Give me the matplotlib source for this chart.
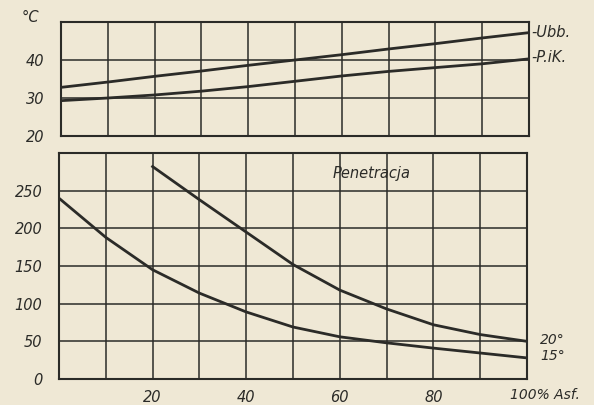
import numpy as np
import matplotlib
matplotlib.use("Agg")
import matplotlib.pyplot as plt

# --- Dane ---
asf = [0, 10, 20, 30, 40, 50, 60, 70, 80, 90, 100]
ubb = [32.8, 34.2, 35.7, 37.1, 38.6, 40.0, 41.4, 42.9, 44.3, 45.8, 47.2]
pik = [29.3, 30.0, 30.8, 31.8, 33.0, 34.4, 35.8, 37.0, 38.0, 39.0, 40.3]

asf_15 = [0, 10, 20, 30, 40, 50, 60, 70, 80, 90, 100]
pen_15 = [240, 188, 145, 114, 89, 69, 56, 48, 41, 34.5, 28]
asf_20 = [20, 30, 40, 50, 60, 70, 80, 90, 100]
pen_20 = [282, 238, 195, 152, 118, 93, 72, 59, 50]

bg = "#efe8d5"
ink = "#2b2b28"
fnt = dict(family="DejaVu Sans", style="italic", color=ink)

fig = plt.figure(figsize=(5.94, 4.05), dpi=100, facecolor=bg)

# --- Gorny wykres: temperatura ---
ax1 = fig.add_axes([61 / 594, 1 - 136 / 405, 468 / 594, 114 / 405], facecolor=bg)
ax1.plot(asf, ubb, color=ink, lw=2)
ax1.plot(asf, pik, color=ink, lw=2)
ax1.set_xlim(0, 100)
ax1.set_ylim(20, 50)
ax1.set_xticks(np.arange(0, 101, 10))
ax1.set_yticks([20, 30, 40, 50])
ax1.set_xticklabels([])
ax1.set_yticklabels(["20", "30", "40", ""], fontsize=10.5, **fnt)
ax1.text(-0.066, 1.04, "°C", transform=ax1.transAxes, ha="center", va="center", fontsize=10.5, **fnt)
ax1.text(100.5, ubb[-1], "-Ubb.", ha="left", va="center", fontsize=10.5, clip_on=False, **fnt)
ax1.text(100.5, pik[-1] + 0.3, "-P.iK.", ha="left", va="center", fontsize=10.5, clip_on=False, **fnt)

# --- Dolny wykres: penetracja ---
ax2 = fig.add_axes([59 / 594, 26 / 405, 468 / 594, 226 / 405], facecolor=bg)
ax2.plot(asf_15, pen_15, color=ink, lw=2)
ax2.plot(asf_20, pen_20, color=ink, lw=2)
ax2.set_xlim(0, 100)
ax2.set_ylim(0, 300)
ax2.set_xticks(np.arange(0, 101, 10))
ax2.set_yticks(np.arange(0, 301, 50))
ax2.set_xticklabels(["", "", "20", "", "40", "", "60", "", "80", "", ""], fontsize=10.5, **fnt)
ax2.set_yticklabels(["0", "50", "100", "150", "200", "250", ""], fontsize=10.5, **fnt)
ax2.text(1.0385, -0.07, "100% Asf.", transform=ax2.transAxes, ha="center", va="center", fontsize=10, **fnt)
ax2.text(66.7, 273, "Penetracja", ha="center", va="center", fontsize=10.5, **fnt)
ax2.text(102.8, 52, "20°", ha="left", va="center", fontsize=10, clip_on=False, **fnt)
ax2.text(102.8, 31, "15°", ha="left", va="center", fontsize=10, clip_on=False, **fnt)

for ax in (ax1, ax2):
    ax.grid(True, color=ink, lw=1.1)
    ax.set_axisbelow(True)
    ax.tick_params(length=0, pad=12)
    for s in ax.spines.values():
        s.set_color(ink)
        s.set_linewidth(1.5)
ax2.tick_params(axis="x", pad=8)

fig.savefig("out.png", dpi=100, facecolor=bg)
